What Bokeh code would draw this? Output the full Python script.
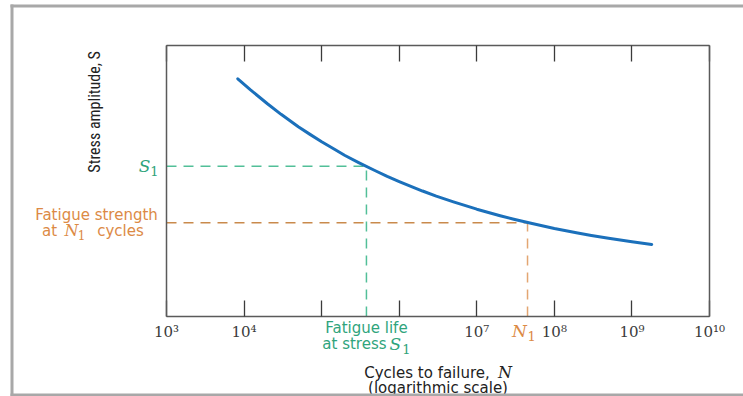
import math
from bokeh.plotting import figure
from bokeh.models import Range1d, FixedTicker, LogAxis, LinearAxis, Label, BoxAnnotation
from bokeh.embed import file_html
from bokeh.resources import INLINE

# ---- data ----
cycles = [8.3e3, 1.2e4, 2e4, 3e4, 5e4, 7e4, 1e5, 1.5e5, 2e5, 3e5, 5e5, 7e5,
          1e6, 2e6, 3e6, 5e6, 1e7, 2e7, 3e7, 5e7, 1e8, 2e8, 3e8, 5e8, 1e9, 1.8e9]
stress = [87.7, 83.7, 78.5, 74.6, 70.0, 67.3, 64.5, 61.5, 59.4, 56.8, 53.7, 51.7,
          49.8, 46.3, 44.4, 42.3, 39.6, 37.2, 35.9, 34.4, 32.5, 30.8, 29.9, 28.9, 27.6, 26.6]
S1 = 55.4            # stress amplitude S1
N_life = 3.78e5      # fatigue life at S1
N1 = 4.51e7          # N1 cycles
S_N1 = 34.6          # fatigue strength at N1
tick_values = [1e3, 1e4, 1e5, 1e6, 1e7, 1e8, 1e9, 1e10]
tick_labels = ["10³", "10⁴", "", "", "10⁷", "10⁸", "10⁹", "10¹⁰"]
N_MIN, N_MAX = 1e3, 1e10
S_MIN, S_MAX = 0, 100

# ---- layout (pixels of the 743x396 page) ----
W, H = 743, 396
BOX_L, BOX_R, BOX_T, BOX_B = 166, 709, 45, 316
dec = (BOX_R - BOX_L) / (math.log10(N_MAX) - math.log10(N_MIN))
x_lo = 10 ** (math.log10(N_MIN) - BOX_L / dec)
x_hi = 10 ** (math.log10(N_MIN) + (W - BOX_L) / dec)
spx = (BOX_B - BOX_T) / (S_MAX - S_MIN)
y_lo = S_MIN - (H - BOX_B) / spx
y_hi = S_MAX + BOX_T / spx

GREEN_T = "#2fa47c"
GREEN_L = "#52bf98"
ORANGE_T = "#dc8a45"
ORANGE_L = "#c98a4c"
ORANGE_L2 = "#e3a672"
BLUE = "#1b70bb"
DARK = "#3b3b3b"
BOXC = "#5a5a5a"

p = figure(width=W, height=H, x_axis_type="log",
           x_range=Range1d(x_lo, x_hi), y_range=Range1d(y_lo, y_hi),
           output_backend="svg", toolbar_location=None,
           x_axis_location=None, y_axis_location=None, min_border=0)
p.grid.visible = False
p.outline_line_color = None
p.background_fill_color = "white"
p.border_fill_color = "white"

bottom = LogAxis(fixed_location=S_MIN, bounds=(N_MIN, N_MAX),
                 ticker=FixedTicker(ticks=tick_values),
                 major_label_overrides={v: l for v, l in zip(tick_values, tick_labels)},
                 major_tick_in=16, major_tick_out=0,
                 minor_tick_line_color=None, major_tick_line_color=DARK,
                 major_tick_line_width=1.3,
                 axis_line_color=BOXC, axis_line_width=1.5,
                 major_label_text_font="DejaVu Serif",
                 major_label_text_font_size="15px",
                 major_label_text_color=DARK, major_label_standoff=6)
p.add_layout(bottom, "below")
top = LogAxis(fixed_location=S_MAX, bounds=(N_MIN, N_MAX),
              ticker=FixedTicker(ticks=tick_values),
              major_label_overrides={v: "" for v in tick_values},
              major_tick_in=16, major_tick_out=0,
              minor_tick_line_color=None, major_tick_line_color=DARK,
              major_tick_line_width=1.3,
              axis_line_color=BOXC, axis_line_width=1.5,
              major_label_text_alpha=0)
p.add_layout(top, "above")
for loc, side in [(N_MIN, "left"), (N_MAX, "right")]:
    ax = LinearAxis(fixed_location=loc, bounds=(S_MIN, S_MAX),
                    ticker=FixedTicker(ticks=[]),
                    major_tick_line_color=None, minor_tick_line_color=None,
                    axis_line_color=BOXC, axis_line_width=1.5,
                    major_label_text_alpha=0)
    p.add_layout(ax, side)

# dashed guides
p.line([N_MIN, N_life], [S1, S1], line_color=GREEN_L, line_width=1.5, line_dash="10 7")
p.line([N_life, N_life], [S_MIN, S1], line_color=GREEN_L, line_width=1.5, line_dash="10 7")
p.line([N_MIN, N1], [S_N1, S_N1], line_color=ORANGE_L, line_width=1.5, line_dash="10 7")
p.line([N1, N1], [S_MIN, S_N1], line_color=ORANGE_L2, line_width=1.5, line_dash="10 7")

# S-N curve
p.line(cycles, stress, line_color=BLUE, line_width=3, line_cap="round", line_join="round")

SANS = "DejaVu Sans"
SERIF = "DejaVu Serif"


def lab(x, y, text, dx, dy, color, font=SANS, size="15px", style="normal", align="center", angle=0):
    p.add_layout(Label(x=x, y=y, x_offset=dx, y_offset=dy, text=text, text_font=font,
                       text_font_style=style, text_font_size=size, text_color=color,
                       text_align=align, text_baseline="middle", angle=angle))


# S1 label on the left
lab(N_MIN, S1, "S", -16, 0, GREEN_T, SERIF, "17px", "italic", "right")
lab(N_MIN, S1, "1", -8, -5, GREEN_T, SERIF, "13px", "normal", "right")

# Fatigue strength at N1 cycles
lab(N_MIN, S_N1, "Fatigue strength", -70, 8, ORANGE_T)
lab(N_MIN, S_N1, "at", -117, -8, ORANGE_T)
lab(N_MIN, S_N1, "N", -95, -8, ORANGE_T, SERIF, "16px", "italic")
lab(N_MIN, S_N1, "1", -85, -12, ORANGE_T, SERIF, "12px")
lab(N_MIN, S_N1, "cycles", -46, -8, ORANGE_T)

# Fatigue life at stress S1
lab(N_life, S_MIN, "Fatigue life", 0, -11, GREEN_T)
lab(N_life, S_MIN, "at stress", -12, -27, GREEN_T)
lab(N_life, S_MIN, "S", 29, -27, GREEN_T, SERIF, "17px", "italic")
lab(N_life, S_MIN, "1", 40, -32, GREEN_T, SERIF, "13px")

# N1 below axis
lab(N1, S_MIN, "N", -8, -14, ORANGE_T, SERIF, "17px", "italic")
lab(N1, S_MIN, "1", 4, -19, ORANGE_T, SERIF, "13px")

# x-axis title
XT = 10 ** 6.5
lab(XT, S_MIN, "Cycles to failure,", -11, -56, "#222222")
lab(XT, S_MIN, "N", 67, -56, "#222222", SERIF, "16px", "italic")
lab(XT, S_MIN, "(logarithmic scale)", 0, -71, "#222222")

# y-axis title
lab(N_MIN, 75.5, "Stress amplitude, S", -72, 0, "#222222",
    "'Liberation Sans Narrow', 'Roboto Condensed', sans-serif", "16px", "normal",
    "center", math.pi / 2)

# outer gray page frame (screen units, origin bottom-left)
for kw in [dict(left=10, right=W + 20, bottom=H - 7, top=H - 4),
           dict(left=10, right=13, bottom=0, top=H - 4),
           dict(left=10, right=W + 20, bottom=0, top=3)]:
    p.add_layout(BoxAnnotation(left_units="screen", right_units="screen",
                               top_units="screen", bottom_units="screen",
                               fill_color="#a8a8a8", fill_alpha=1,
                               line_color=None, **kw))

open("out.html", "w").write(file_html(p, INLINE))
